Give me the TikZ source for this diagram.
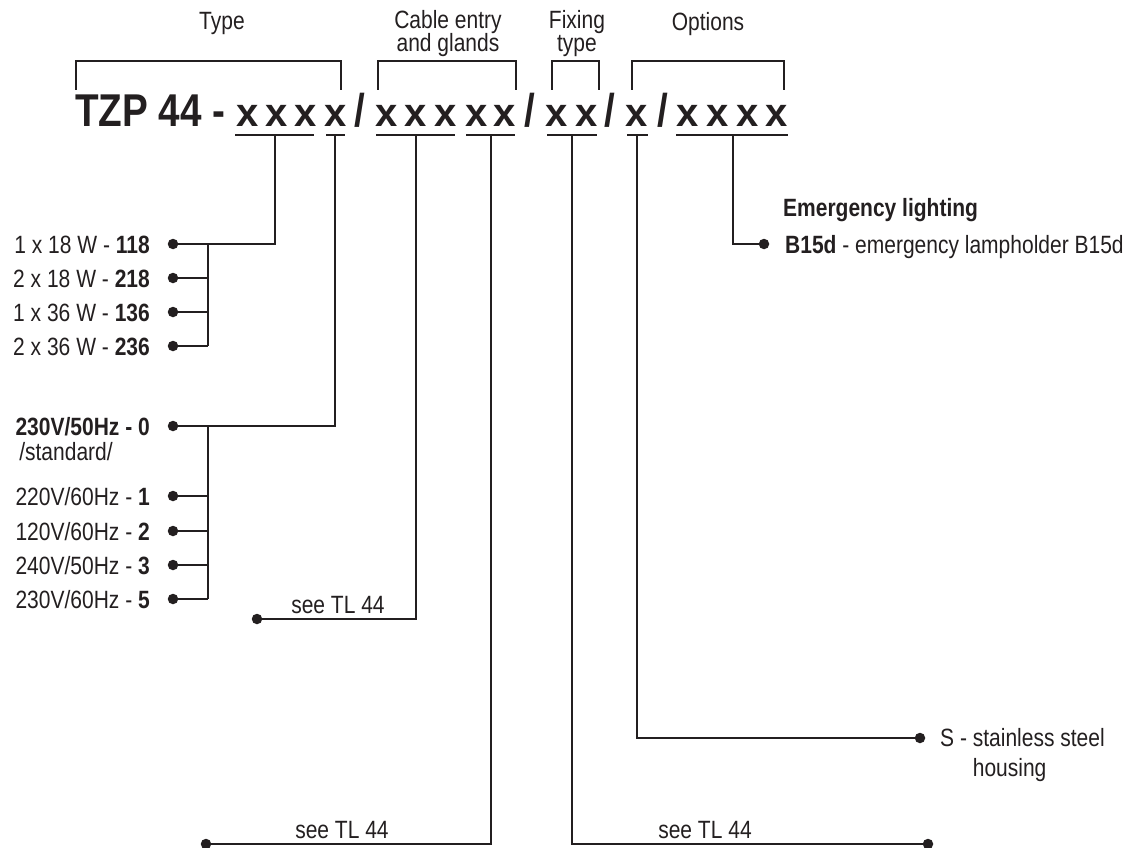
\documentclass[tikz,border=0pt]{standalone}
\usepackage{fontspec}
\setmainfont{Liberation Sans}[FakeStretch=0.84]
\newfontfamily\xfont{Liberation Sans}[FakeStretch=1.0]
\usetikzlibrary{positioning}

\definecolor{ink}{HTML}{231F20}

\tikzset{
  lbl/.style={font=\fontsize{25}{22}\selectfont, inner sep=0pt, text=ink},
  head/.style={lbl, anchor=north, align=center, font=\fontsize{25}{23.5}\selectfont},
  codech/.style={font=\fontsize{46}{46}\selectfont\bfseries, inner sep=0pt, anchor=base, text=ink},
  codex/.style={codech, font=\xfont\fontsize{40}{40}\selectfont\bfseries},
  dot/.style={circle, fill=ink, inner sep=0pt, minimum size=10.5pt},
  wire/.style={draw=ink, line width=1.4pt}
}

\begin{document}
\begin{tikzpicture}[x=1pt,y=-1pt]

        \useasboundingbox (0,0) rectangle (1133,848);

        %%% HEADINGS

        \node[head] (hType) at (222,12) {Type};
        \node[head] (hCable) at (448,10) {Cable entry\\and glands};
        \node[head] (hFix) at (577,10) {Fixing\\type};
        \node[head] (hOpt) at (708,12) {Options};

        % Brackets
        \draw[wire] (76,90) -- (76,61) -- (341,61) -- (341,90);
        \draw[wire] (378,90) -- (378,61) -- (516,61) -- (516,90);
        \draw[wire] (552,90) -- (552,61) -- (599,61) -- (599,90);
        \draw[wire] (632,90) -- (632,61) -- (784,61) -- (784,90);

        %%% TYPE CODE

        \node[codech, anchor=base west] (tzp) at (75,127) {TZP 44 -};
        \foreach \cx [count=\i] in {248,277,306,336,387,416,446,477,505,557,587,637,688,718,748,777}
          \node[codex] (x\i) at (\cx,127) {x};
        \foreach \cx [count=\i] in {360,530,610,663}
          \node[codech] (sl\i) at (\cx,127) {/};

        % Underlines
        \draw[wire] (235,135) -- (314,135);
        \draw[wire] (326,135) -- (345,135);
        \draw[wire] (376,135) -- (455,135);
        \draw[wire] (466,135) -- (515,135);
        \draw[wire] (547,135) -- (597,135);
        \draw[wire] (627,135) -- (648,135);
        \draw[wire] (676,135) -- (788,135);

        \coordinate (u1) at (275,135);
        \coordinate (u2) at (335,135);
        \coordinate (u3) at (416,135);
        \coordinate (u4) at (491,135);
        \coordinate (u5) at (572,135);
        \coordinate (u6) at (637,135);
        \coordinate (u7) at (733,135);

        %%% LAMP WATTAGE

        \foreach \ty/\txt/\cd [count=\i] in {244/1 x 18 W/118, 278/2 x 18 W/218, 312/1 x 36 W/136, 346/2 x 36 W/236} {
          \node[lbl, anchor=base east] (w\i) at (150,\ty+9) {\txt{} - \textbf{\cd}};
          \node[dot] (wd\i) at (173,\ty) {};
          \draw[wire] (wd\i.center) -- (208,\ty);
        }
        \draw[wire] (208,244) -- (208,346);
        \draw[wire] (u1) |- (wd1);

        %%% VOLTAGE

        \node[lbl, anchor=base east] (v0) at (150,435) {\textbf{230V/50Hz - 0}};
        \node[lbl, anchor=base] (vstd) at (66,460) {/standard/};
        \node[dot] (vd0) at (173,426) {};
        \foreach \ty/\txt/\cd [count=\i] in {496/{220V/60Hz}/1, 531/{120V/60Hz}/2, 565/{240V/50Hz}/3, 599/{230V/60Hz}/5} {
          \node[lbl, anchor=base east] (v\i) at (150,\ty+9) {\txt{} - \textbf{\cd}};
          \node[dot] (vd\i) at (173,\ty) {};
          \draw[wire] (vd\i.center) -- (208,\ty);
        }
        \draw[wire] (208,426) -- (208,599);
        \draw[wire] (u2) |- (vd0);

        %%% CABLE ENTRY AND GLANDS

        \node[dot] (cd1) at (257,619) {};
        \node[lbl, anchor=base] (see1) at (338,613) {see TL 44};
        \draw[wire] (u3) |- (cd1);

        \node[dot] (cd2) at (206,844) {};
        \node[lbl, anchor=base] (see2) at (342,838) {see TL 44};
        \draw[wire] (u4) |- (cd2);

        %%% FIXING TYPE

        \node[dot] (fd) at (928,844) {};
        \node[lbl, anchor=base] (see3) at (705,838) {see TL 44};
        \draw[wire] (u5) |- (fd);

        %%% HOUSING

        \node[dot] (sd) at (920,738) {};
        \node[lbl, anchor=north west, align=left, font=\fontsize{25}{30}\selectfont] (steel) at (940,728)
          {S - stainless steel\\\phantom{S - }housing};
        \draw[wire] (u6) |- (sd);

        %%% OPTIONS

        \node[lbl, anchor=base west] (emtitle) at (783,216) {\textbf{Emergency lighting}};
        \node[dot] (ed) at (764,244) {};
        \node[lbl, anchor=base west] (em) at (785,253) {\textbf{B15d} - emergency lampholder B15d};
        \draw[wire] (u7) |- (ed);

\end{tikzpicture}
\end{document}
